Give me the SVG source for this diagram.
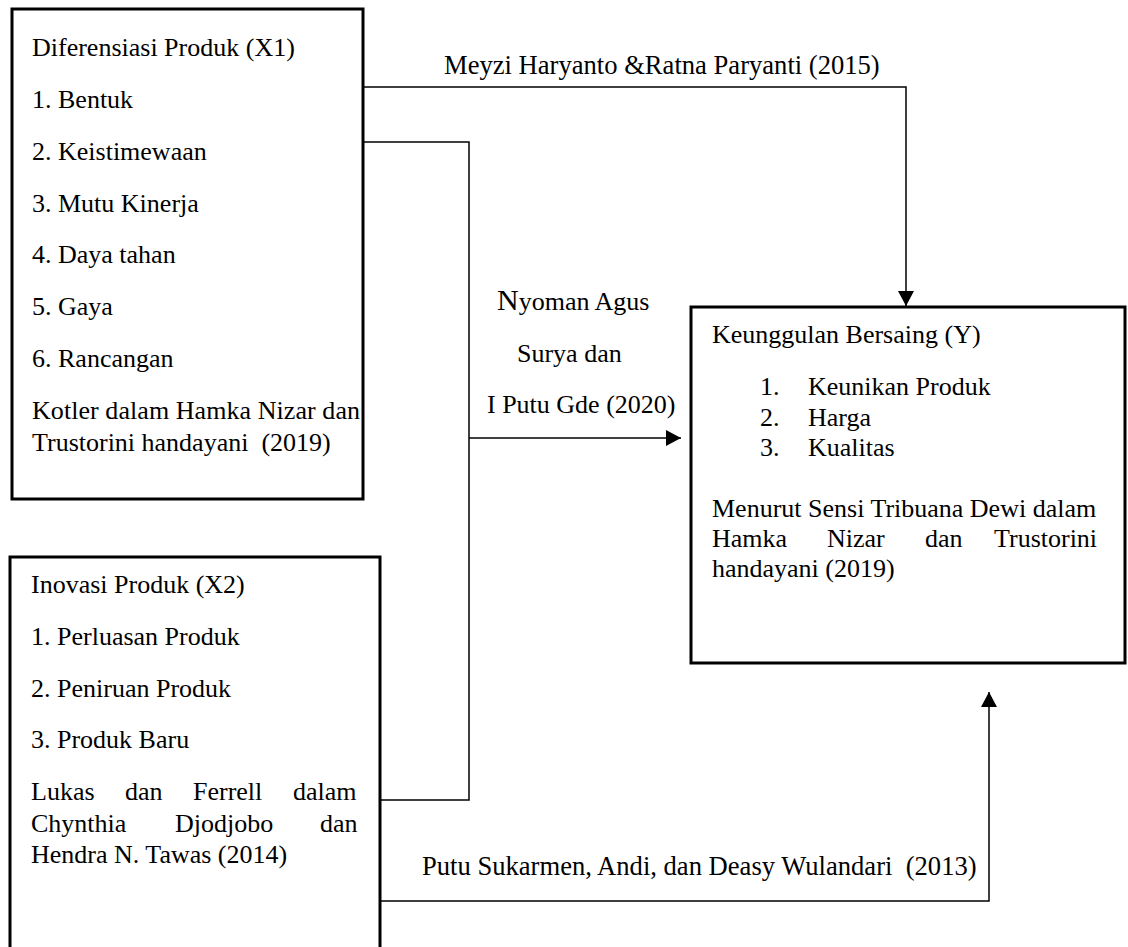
<svg xmlns="http://www.w3.org/2000/svg" width="1128" height="947" viewBox="0 0 1128 947">
<style>
text{font-family:"Liberation Serif","Times New Roman",serif;font-size:26px;fill:#000}
.lbl{font-size:26.6px}
.box{fill:#fff;stroke:#000;stroke-width:3}
.con{fill:none;stroke:#000;stroke-width:1.5}
</style>
<defs>
<marker id="arr" viewBox="0 0 15 16" refX="15" refY="8" markerWidth="15" markerHeight="16" orient="auto" markerUnits="userSpaceOnUse">
<path d="M0,0 L15,8 L0,16 z" fill="#000"/>
</marker>
</defs>
<rect width="1128" height="947" fill="#fff"/>
<g id="connectors">
<path class="con" d="M363,87 H906 V306" marker-end="url(#arr)"/>
<path class="con" d="M363,142 H469 V800 H380"/>
<path class="con" d="M469,438 H681" marker-end="url(#arr)"/>
<path class="con" d="M380,901 H989 V692" marker-end="url(#arr)"/>
<text class="lbl" x="444" y="74">Meyzi Haryanto &amp;Ratna Paryanti (2015)</text>
<text x="497" y="310"><tspan font-size="30">N</tspan>yoman Agus</text>
<text x="517" y="362">Surya dan</text>
<text x="487" y="413">I Putu Gde (2020)</text>
<text class="lbl" x="422" y="875" xml:space="preserve">Putu Sukarmen, Andi, dan Deasy Wulandari  (2013)</text>
</g>
<g id="x1">
<rect class="box" x="12" y="9" width="351" height="490"/>
<text x="32" y="56">Diferensiasi Produk (X1)</text>
<text x="32" y="108">1. Bentuk</text>
<text x="32" y="160">2. Keistimewaan</text>
<text x="32" y="212">3. Mutu Kinerja</text>
<text x="32" y="263">4. Daya tahan</text>
<text x="32" y="315">5. Gaya</text>
<text x="32" y="367">6. Rancangan</text>
<text x="32" y="419" textLength="328" lengthAdjust="spacing">Kotler dalam Hamka Nizar dan</text>
<text x="32" y="451" xml:space="preserve">Trustorini handayani  (2019)</text>
</g>
<g id="x2">
<rect class="box" x="10" y="557" width="370" height="400"/>
<text x="31" y="593">Inovasi Produk (X2)</text>
<text x="31" y="645">1. Perluasan Produk</text>
<text x="31" y="697">2. Peniruan Produk</text>
<text x="31" y="748">3. Produk Baru</text>
<text y="800"><tspan x="31">Lukas</tspan><tspan x="125">dan</tspan><tspan x="193">Ferrell</tspan><tspan x="293">dalam</tspan></text>
<text y="832"><tspan x="31">Chynthia</tspan><tspan x="175">Djodjobo</tspan><tspan x="320">dan</tspan></text>
<text x="31" y="863">Hendra N. Tawas (2014)</text>
</g>
<g id="y">
<rect class="box" x="691" y="307" width="434" height="356"/>
<text x="712" y="343">Keunggulan Bersaing (Y)</text>
<text x="760" y="395">1.</text><text x="808" y="395">Keunikan Produk</text>
<text x="760" y="426">2.</text><text x="808" y="426">Harga</text>
<text x="760" y="456">3.</text><text x="808" y="456">Kualitas</text>
<text x="712" y="517">Menurut Sensi Tribuana Dewi dalam</text>
<text y="547"><tspan x="712">Hamka</tspan><tspan x="827">Nizar</tspan><tspan x="925">dan</tspan><tspan x="994">Trustorini</tspan></text>
<text x="712" y="577">handayani (2019)</text>
</g>
</svg>
